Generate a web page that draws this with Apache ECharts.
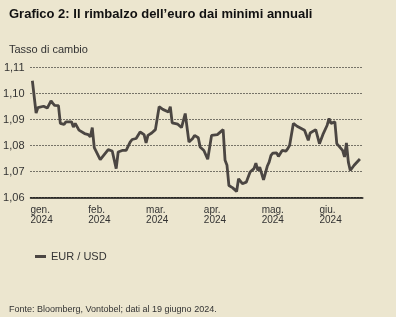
<!DOCTYPE html>
<html>
<head>
<meta charset="utf-8">
<script src="https://cdn.jsdelivr.net/npm/echarts@6/dist/echarts.min.js"></script>
<style>
  html, body { margin: 0; padding: 0; background: #ECE6CF; }
  #chart { width: 396px; height: 317px; }
</style>
</head>
<body>
<div id="chart"></div>
<script>
const monthLabels = ["gen.", "feb.", "mar.", "apr.", "mag.", "giu."];
const yearLabel = "2024";
const yTicks = [1.06, 1.07, 1.08, 1.09, 1.10, 1.11];

// EUR/USD
const dates = [
  "2024-01-02", "2024-01-04", "2024-01-05", "2024-01-08", "2024-01-10", "2024-01-12",
  "2024-01-13", "2024-01-14", "2024-01-16", "2024-01-17", "2024-01-19", "2024-01-20",
  "2024-01-21", "2024-01-23", "2024-01-24", "2024-01-25", "2024-01-27", "2024-01-28",
  "2024-01-30", "2024-02-01", "2024-02-02", "2024-02-03", "2024-02-04", "2024-02-07",
  "2024-02-11", "2024-02-13", "2024-02-14", "2024-02-15", "2024-02-16", "2024-02-18",
  "2024-02-20", "2024-02-22", "2024-02-23", "2024-02-25", "2024-02-27", "2024-02-29",
  "2024-03-01", "2024-03-02", "2024-03-04", "2024-03-06", "2024-03-08", "2024-03-10",
  "2024-03-13", "2024-03-14", "2024-03-15", "2024-03-18", "2024-03-20", "2024-03-22",
  "2024-03-24", "2024-03-26", "2024-03-27", "2024-03-29", "2024-03-30", "2024-04-01",
  "2024-04-03", "2024-04-05", "2024-04-08", "2024-04-11", "2024-04-12", "2024-04-13",
  "2024-04-14", "2024-04-16", "2024-04-18", "2024-04-19", "2024-04-21", "2024-04-23",
  "2024-04-24", "2024-04-25", "2024-04-27", "2024-04-28", "2024-04-29", "2024-04-30",
  "2024-05-01", "2024-05-02", "2024-05-04", "2024-05-05", "2024-05-06", "2024-05-07",
  "2024-05-09", "2024-05-10", "2024-05-12", "2024-05-14", "2024-05-15", "2024-05-16",
  "2024-05-18", "2024-05-20", "2024-05-24", "2024-05-26", "2024-05-27", "2024-05-30",
  "2024-06-01", "2024-06-03", "2024-06-05", "2024-06-06", "2024-06-07", "2024-06-09",
  "2024-06-10", "2024-06-13", "2024-06-14", "2024-06-15", "2024-06-16", "2024-06-17",
  "2024-06-19", "2024-06-22"
];
const eurUsd = [
  1.1049, 1.0925, 1.0946, 1.0951, 1.0944, 1.0972,
  1.0962, 1.0954, 1.0953, 1.0885, 1.0881, 1.0891,
  1.0897, 1.0891, 1.0871, 1.0885, 1.0859, 1.0856,
  1.0846, 1.0842, 1.0833, 1.0869, 1.0792, 1.0746,
  1.0784, 1.0779, 1.0775, 1.0711, 1.0775, 1.0781,
  1.0781, 1.0813, 1.0823, 1.0827, 1.0852, 1.0842,
  1.0810, 1.0839, 1.0848, 1.0861, 1.0949, 1.0939,
  1.0929, 1.0949, 1.0887, 1.0882, 1.0869, 1.0923,
  1.0813, 1.0827, 1.0839, 1.0830, 1.0794, 1.0781,
  1.0747, 1.0839, 1.0842, 1.0861, 1.0743, 1.0724,
  1.0646, 1.0637, 1.0623, 1.0672, 1.0653, 1.0659,
  1.0659, 1.0698, 1.0711, 1.0732, 1.0704, 1.0717,
  1.0724, 1.0668, 1.0720, 1.0736, 1.0762, 1.0771,
  1.0772, 1.0758, 1.0781, 1.0778, 1.0788, 1.0801,
  1.0885, 1.0874, 1.0859, 1.0820, 1.0848, 1.0861,
  1.0807, 1.0846, 1.0878, 1.0904, 1.0885, 1.0891,
  1.0807, 1.0781, 1.0756, 1.0810, 1.0736, 1.0704,
  1.0724, 1.0748
];

// the source chart gives every month the same width
function monthPos (d) {
  const [y, m, day] = d.split("-").map(Number);
  const daysInMonth = new Date(y, m, 0).getDate();
  return (m - 1) + (day - 1) / daysInMonth;
}

const fontFamily = "Liberation Sans, Arial, sans-serif";
const chart = echarts.init(document.getElementById("chart"));

chart.setOption({
  backgroundColor: "#ECE6CF",
  textStyle: { fontFamily: fontFamily },
  animation: false,
  title: [
    {
      text: "Grafico 2: Il rimbalzo dell\u2019euro dai minimi annuali",
      left: 4,
      top: 3,
      textStyle: { color: "#111111", fontSize: 13, fontWeight: "bold", fontFamily: fontFamily },
    },
    {
      text: "Tasso di cambio",
      left: 4,
      top: 39,
      textStyle: { color: "#333333", fontSize: 11, fontWeight: "normal", fontFamily: fontFamily },
    },
    {
      text: "Fonte: Bloomberg, Vontobel; dati al 19 giugno 2024.",
      left: 4,
      top: 300,
      textStyle: { color: "#333333", fontSize: 9, fontWeight: "normal", fontFamily: fontFamily },
    }
  ],
  legend: {
    left: 30,
    top: 246,
    icon: "rect",
    itemWidth: 11,
    itemHeight: 3,
    itemGap: 5,
    textStyle: { color: "#333333", fontSize: 11, fontFamily: fontFamily },
    data: ["EUR / USD"],
  },
  grid: {
    left: 30.5,
    right: 33.2,
    top: 67.5,
    bottom: 119.5,
  },
  xAxis: {
    type: "value",
    min: 0,
    max: 5.75,
    interval: 1,
    axisLine: { show: true, lineStyle: { color: "#111111", width: 1.5 } },
    axisTick: { show: false },
    splitLine: { show: false },
    axisLabel: {
      align: "left",
      margin: 8,
      color: "#333333",
      fontSize: 10,
      lineHeight: 10,
      showMaxLabel: false,
      formatter: (v) => Number.isInteger(v) && monthLabels[v] ? monthLabels[v] + "\n" + yearLabel : "",
    },
  },
  yAxis: {
    type: "value",
    min: yTicks[0],
    max: yTicks[yTicks.length - 1],
    interval: 0.01,
    axisLine: { show: false },
    axisTick: { show: false },
    axisLabel: {
      margin: 6,
      color: "#333333",
      fontSize: 11,
      formatter: (v) => v.toFixed(2).replace(".", ","),
    },
    splitLine: {
      show: true,
      lineStyle: { color: "#000000", width: 1, type: [1, 2] },
    },
  },
  series: [
    {
      name: "EUR / USD",
      type: "line",
      showSymbol: false,
      color: "#4B4642",
      lineStyle: { width: 2.8, color: "#4B4642" },
      data: dates.map((d, i) => [monthPos(d), eurUsd[i]]),
    }
  ],
});
</script>
</body>
</html>
